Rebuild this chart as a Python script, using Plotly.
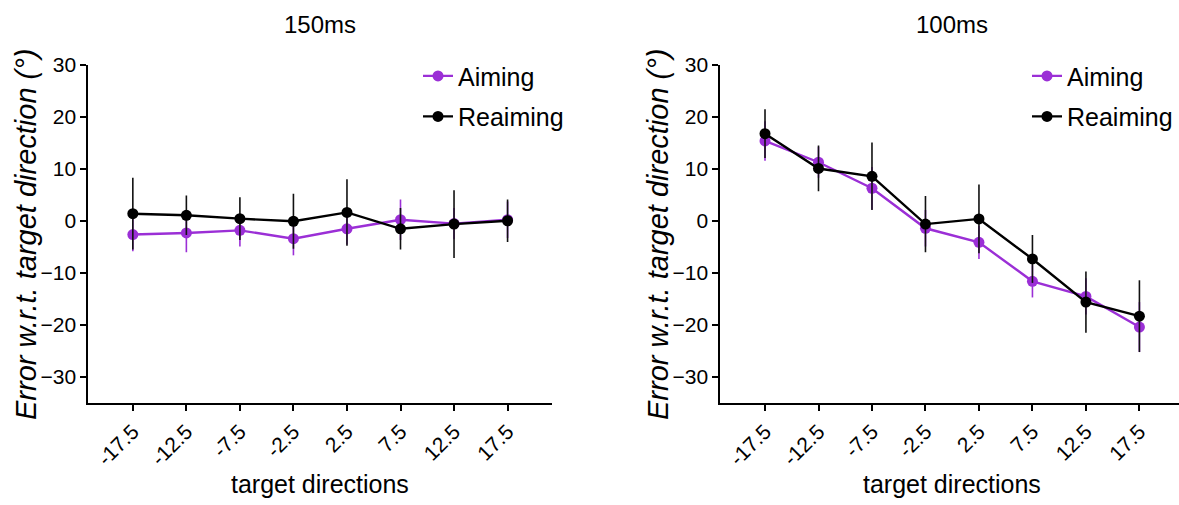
import plotly.graph_objects as go

# ---------------- data ----------------
directions = ["-17.5", "-12.5", "-7.5", "-2.5", "2.5", "7.5", "12.5", "17.5"]
y_ticks = [-30, -20, -10, 0, 10, 20, 30]

# 150 ms panel
aim_150 = [-2.6, -2.3, -1.8, -3.4, -1.5, 0.25, -0.5, 0.25]
aim_150_err = [3.2, 3.7, 3.1, 3.2, 3.0, 3.9, 3.0, 3.5]
reaim_150 = [1.4, 1.1, 0.45, -0.05, 1.65, -1.5, -0.6, 0.05]
reaim_150_err = [6.9, 3.8, 4.1, 5.3, 6.4, 4.0, 6.5, 4.1]

# 100 ms panel
aim_100 = [15.4, 11.3, 6.3, -1.4, -4.1, -11.6, -14.5, -20.4]
aim_100_err = [3.8, 3.0, 4.1, 3.5, 3.2, 3.1, 3.5, 4.8]
reaim_100 = [16.8, 10.1, 8.6, -0.6, 0.4, -7.3, -15.6, -18.3]
reaim_100_err = [4.7, 4.4, 6.5, 5.4, 6.6, 4.6, 5.9, 6.9]

panel_titles = ["150ms", "100ms"]
series_names = ["Aiming", "Reaiming"]
x_title = "target directions"
y_title = "Error w.r.t. target direction (°)"

PURPLE = "#9B2FD6"
BLACK = "#000000"
FONT = "Liberation Sans, Arial, sans-serif"

W, H = 1179, 505
fig = go.Figure()

panels = [
    ("x", "y", aim_150, aim_150_err, reaim_150, reaim_150_err, "legend"),
    ("x2", "y2", aim_100, aim_100_err, reaim_100, reaim_100_err, "legend2"),
]

for xa, ya, am, ae, rm, re, lg in panels:
    fig.add_trace(go.Scatter(
        x=directions, y=am, name=series_names[0], xaxis=xa, yaxis=ya,
        mode="lines+markers", legend=lg, legendgroup="a",
        line=dict(color=PURPLE, width=2.4),
        marker=dict(color=PURPLE, size=11, symbol="circle"),
        error_y=dict(type="data", array=ae, visible=True, color=PURPLE,
                     thickness=1.6, width=0),
    ))
    fig.add_trace(go.Scatter(
        x=directions, y=rm, name=series_names[1], xaxis=xa, yaxis=ya,
        mode="lines+markers", legend=lg, legendgroup="r",
        line=dict(color=BLACK, width=2.4),
        marker=dict(color=BLACK, size=11, symbol="circle"),
        error_y=dict(type="data", array=re, visible=True, color="#111111",
                     thickness=1.6, width=0),
    ))

axis_common = dict(
    showgrid=False, zeroline=False, showline=True, linecolor="black",
    linewidth=2, ticks="outside", tickcolor="black", tickwidth=2, ticklen=6,
    tickfont=dict(family=FONT, size=21, color="black"),
)

fig.update_layout(
    width=W, height=H,
    margin=dict(l=0, r=0, t=65, b=102),
    paper_bgcolor="white", plot_bgcolor="white",
    showlegend=True,
    xaxis=dict(domain=[88.4 / W, 552 / W], type="category",
               range=[-0.83, 7.83], tickangle=-45, anchor="y", **axis_common),
    yaxis=dict(domain=[0, 1], range=[-35, 30], tickvals=y_ticks,
               anchor="x", **axis_common),
    xaxis2=dict(domain=[720.4 / W, 1], type="category",
                range=[-0.834, 7.74], tickangle=-45, anchor="y2", **axis_common),
    yaxis2=dict(domain=[0, 1], range=[-35, 30], tickvals=y_ticks,
                anchor="x2", **axis_common),
    legend=dict(x=418 / W, y=1.035, xanchor="left", yanchor="top",
                font=dict(family=FONT, size=25, color="black"),
                bgcolor="rgba(0,0,0,0)", tracegroupgap=5, itemwidth=30),
    legend2=dict(x=1027 / W, y=1.035, xanchor="left", yanchor="top",
                 font=dict(family=FONT, size=25, color="black"),
                 bgcolor="rgba(0,0,0,0)", tracegroupgap=5, itemwidth=30),
)

annotations = []
centers = [(88.4 + 552) / 2, (720.4 + 1184) / 2]
ytitle_x = [26, 658]
for i in range(2):
    annotations.append(dict(
        text=panel_titles[i], x=centers[i] / W, y=1.121, xref="paper", yref="paper",
        xanchor="center", yanchor="middle", showarrow=False,
        font=dict(family=FONT, size=24, color="black")))
    annotations.append(dict(
        text=x_title, x=centers[i] / W, y=-0.24, xref="paper", yref="paper",
        xanchor="center", yanchor="middle", showarrow=False,
        font=dict(family=FONT, size=25, color="black")))
    annotations.append(dict(
        text="<i>" + y_title + "</i>", x=ytitle_x[i] / W, y=0.5, xref="paper", yref="paper",
        xanchor="center", yanchor="middle", showarrow=False, textangle=-90,
        font=dict(family=FONT, size=29, color="black")))
fig.update_layout(annotations=annotations)

fig.write_html("out.html")
